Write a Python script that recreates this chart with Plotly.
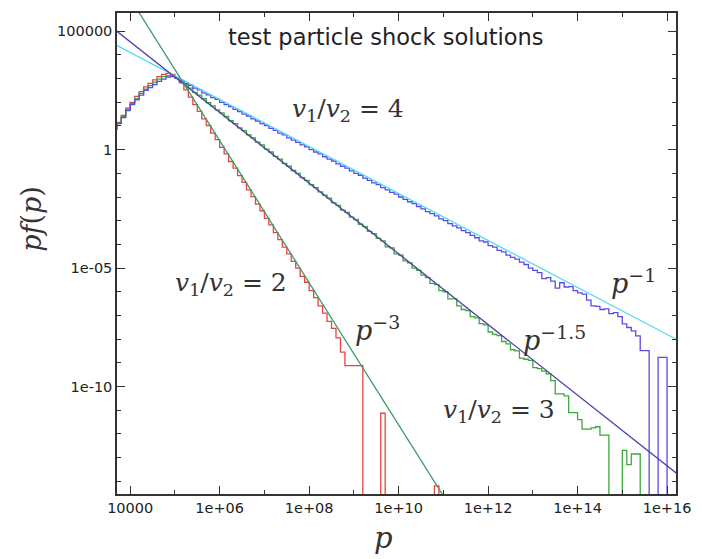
import numpy as np
import plotly.graph_objects as go

# ---------------- data (log10 values) ----------------
bin_start_log = 3.6          # first histogram bin edge, log10(p)
bin_width_log = 0.1          # bin width in decades

# log10(p f(p)) per bin (None = empty bin)
hist_r2 = [0.90, 1.15, 1.45, 1.75, 2.00, 2.25, 2.45, 2.65, 2.80, 2.95, 3.08, 3.18, 3.22, 3.18, 3.05,
           2.82, 2.52, 2.22, 1.90, 1.62, 1.30, 1.02, 0.70, 0.42, 0.10,
           -0.18, -0.50, -0.78, -1.10, -1.38, -1.70, -1.98, -2.30, -2.58, -2.90,
           -3.18, -3.50, -3.80, -4.12, -4.40, -4.72, -5.00, -5.35, -5.60, -5.95,
           -6.25, -6.60, -6.90, -7.25, -7.55, -7.95, -8.55, -9.12, -9.12, -9.12,
           -9.12, None, None, None, None, -11.13, None, None, None, None,
           None, None, None, None, None, None, None, -14.2, None, None]

hist_r3 = [0.88, 1.12, 1.40, 1.70, 1.95, 2.15, 2.38, 2.55, 2.70, 2.85, 2.98, 3.08, 3.12, 3.10, 3.02,
           2.88, 2.75, 2.60, 2.42, 2.30, 2.15, 1.98, 1.85, 1.68, 1.55,
           1.40, 1.22, 1.10, 0.92, 0.80, 0.62, 0.50, 0.32, 0.20, 0.02,
           -0.10, -0.28, -0.40, -0.58, -0.70, -0.88, -1.00, -1.18, -1.30, -1.48,
           -1.60, -1.78, -1.92, -2.05, -2.25, -2.35, -2.55, -2.65, -2.85, -2.95,
           -3.15, -3.25, -3.45, -3.55, -3.75, -3.85, -4.10, -4.15, -4.40, -4.45,
           -4.70, -4.78, -5.00, -5.10, -5.30, -5.40, -5.65, -5.70, -5.95, -6.00,
           -6.30, -6.30, -6.60, -6.75, -6.80, -7.05, -7.10, -7.35, -7.40, -7.70,
           -7.80, -7.85, -8.10, -8.20, -8.45, -8.50, -8.80, -8.85, -8.90, -9.20,
           -9.25, -9.35, -9.47, -9.75, -10.31, -10.31, -10.40, -11.10, -11.10, -11.40,
           -11.80, -11.80, -11.75, -11.70, -12.05, -12.05, None, None, None, -12.70,
           -13.30, -12.85, -12.85, None, None, None, None, None, None, None]

hist_r4 = [0.85, 1.10, 1.35, 1.65, 1.90, 2.10, 2.30, 2.50, 2.62, 2.75, 2.88, 2.98, 3.06, 3.08, 3.02,
           2.92, 2.80, 2.72, 2.60, 2.52, 2.40, 2.31, 2.20, 2.12, 2.00,
           1.90, 1.82, 1.70, 1.61, 1.50, 1.42, 1.30, 1.21, 1.10, 1.02,
           0.90, 0.81, 0.70, 0.62, 0.50, 0.40, 0.31, 0.20, 0.12, 0.00,
           -0.10, -0.18, -0.30, -0.40, -0.48, -0.60, -0.70, -0.78, -0.90, -1.00,
           -1.08, -1.20, -1.30, -1.40, -1.48, -1.60, -1.70, -1.80, -1.88, -2.00,
           -2.10, -2.20, -2.28, -2.40, -2.50, -2.62, -2.70, -2.80, -2.92, -3.00,
           -3.12, -3.22, -3.30, -3.42, -3.50, -3.62, -3.72, -3.85, -3.90, -4.05,
           -4.12, -4.25, -4.32, -4.45, -4.55, -4.62, -4.75, -4.85, -5.00, -5.10,
           -5.19, -5.45, -5.40, -5.55, -5.85, -5.62, -5.80, -5.78, -5.95, -6.05,
           -6.10, -6.35, -6.60, -6.62, -6.75, -6.72, -6.92, -6.88, -7.05, -7.36,
           -7.51, -7.65, -7.86, -8.49, -8.49, None, None, -8.77, -8.77, None,
           None, None]

# power-law guide lines: endpoints (log10 p, log10 pf)
line_m1_x = [3.6, 16.3]
line_m1_y = [4.50, -8.10]      # p^-1
line_m15_x = [3.6, 16.3]
line_m15_y = [5.15, -13.80]    # p^-1.5
line_m3_x = [4.0, 11.1]
line_m3_y = [6.38, -14.92]     # p^-3

x_tick_vals = [1e4, 1e6, 1e8, 1e10, 1e12, 1e14, 1e16]
x_tick_text = ["10000", "1e+06", "1e+08", "1e+10", "1e+12", "1e+14", "1e+16"]
y_tick_vals = [1e-10, 1e-5, 1, 1e5]
y_tick_text = ["1e-10", "1e-05", "1", "100000"]

title_text = "test particle shock solutions"

# ---------------- helpers ----------------
def step_xy(vals):
    n = len(vals)
    edges = bin_start_log + bin_width_log * np.arange(n + 1)
    x = 10.0 ** edges
    y = [10.0 ** v if v is not None else 1e-30 for v in vals]
    y = y + [y[-1]]
    return x, y

fig = go.Figure()
hist_colors = {"r2": "#e8453f", "r3": "#3da83d", "r4": "#5c4ae6"}
for key, vals in [("r2", hist_r2), ("r3", hist_r3), ("r4", hist_r4)]:
    x, y = step_xy(vals)
    fig.add_trace(go.Scatter(x=x, y=y, mode="lines", line=dict(shape="hv", color=hist_colors[key], width=1.3),
                             showlegend=False, hoverinfo="skip"))

for lx, ly, col in [(line_m1_x, line_m1_y, "#4fdcf0"),
                    (line_m15_x, line_m15_y, "#5140a8"),
                    (line_m3_x, line_m3_y, "#3c9c6c")]:
    fig.add_trace(go.Scatter(x=[10.0 ** v for v in lx], y=[10.0 ** v for v in ly], mode="lines",
                             line=dict(color=col, width=1.3), showlegend=False, hoverinfo="skip"))

L, R, T, B = 117, 22, 11, 65
W, H = 702, 559
pw, ph = W - L - R, H - T - B

def px(xp):
    return (xp - L) / pw

def py(yp):
    return (H - B - yp) / ph

axis_common = dict(showline=True, linecolor="#333333", linewidth=1.5, mirror="allticks",
                   ticks="inside", ticklen=8, tickwidth=1.3, tickcolor="#333333",
                   showgrid=False, zeroline=False,
                   tickfont=dict(family="DejaVu Sans", size=14.5, color="#222222"))

x_minor = [10.0 ** k for k in range(5, 17, 2)]
y_minor = [10.0 ** k for k in range(-14, 6) if k not in (-10, -5, 0, 5)]

fig.update_xaxes(type="log", range=[3.705, 16.2], tickmode="array", tickvals=x_tick_vals,
                 ticktext=x_tick_text,
                 minor=dict(tickmode="array", tickvals=x_minor, ticks="inside", ticklen=4,
                            tickwidth=1.2, tickcolor="#333333", showgrid=False),
                 **axis_common)
fig.update_yaxes(type="log", range=[-14.54, 5.77], tickmode="array", tickvals=y_tick_vals,
                 ticktext=y_tick_text,
                 minor=dict(tickmode="array", tickvals=y_minor, ticks="inside", ticklen=4,
                            tickwidth=1.2, tickcolor="#333333", showgrid=False),
                 **axis_common)

serif = "DejaVu Serif"
ann = []
def add_text(text, xp, yp, size, family=serif, color="#333333"):
    ann.append(dict(text=text, x=px(xp), y=py(yp), xref="paper", yref="paper", showarrow=False,
                    xanchor="center", yanchor="middle", font=dict(family=family, size=size, color=color)))

add_text(title_text, 388, 35, 22.5, family="DejaVu Sans", color="#222222")
add_text("<i>v</i><sub>1</sub>/<i>v</i><sub>2</sub> = 4", 350, 108, 25)
add_text("<i>v</i><sub>1</sub>/<i>v</i><sub>2</sub> = 2", 232, 283, 25)
add_text("<i>v</i><sub>1</sub>/<i>v</i><sub>2</sub> = 3", 502, 411, 25)
add_text("<i>p</i><sup>−3</sup>", 379, 328, 27)
add_text("<i>p</i><sup>−1.5</sup>", 558, 338, 27)
add_text("<i>p</i><sup>−1</sup>", 637, 281, 27)
add_text("<i>p</i>", 385, 538, 29)
ann.append(dict(text="<i>pf</i>(<i>p</i>)", x=px(31), y=py(218), xref="paper", yref="paper",
                showarrow=False, textangle=-90, xanchor="center", yanchor="middle",
                font=dict(family=serif, size=27, color="#333333")))

fig.update_layout(width=W, height=H, margin=dict(l=L, r=R, t=T, b=B),
                  paper_bgcolor="white", plot_bgcolor="white", annotations=ann)

fig.write_html("out.html")
